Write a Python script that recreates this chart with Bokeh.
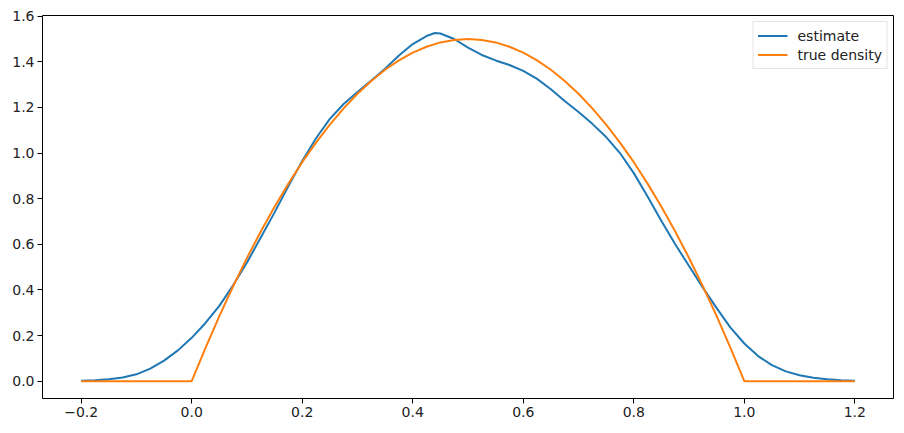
from bokeh.plotting import figure
from bokeh.models import FixedTicker, CustomJSTickFormatter, Range1d, Legend, LegendItem
from bokeh.embed import file_html
from bokeh.resources import INLINE

# Kernel density estimate
est_x = [-0.2, -0.175, -0.15, -0.125, -0.1, -0.075, -0.05, -0.025, 0.0, 0.025, 0.05, 0.075,
         0.1, 0.125, 0.15, 0.175, 0.2, 0.225, 0.25, 0.275, 0.3, 0.325, 0.35, 0.375, 0.4,
         0.425, 0.44, 0.45, 0.475, 0.5, 0.525, 0.55, 0.575, 0.6, 0.625, 0.65, 0.675, 0.7,
         0.725, 0.75, 0.775, 0.8, 0.825, 0.85, 0.875, 0.9, 0.925, 0.95, 0.975, 1.0, 1.025,
         1.05, 1.075, 1.1, 1.125, 1.15, 1.175, 1.2]
est_y = [0.002, 0.004, 0.008, 0.016, 0.030, 0.055, 0.090, 0.135, 0.190, 0.255, 0.330, 0.420,
         0.520, 0.630, 0.740, 0.855, 0.965, 1.065, 1.150, 1.215, 1.268, 1.318, 1.370, 1.428, 1.478,
         1.513, 1.526, 1.524, 1.500, 1.462, 1.430, 1.406, 1.386, 1.360, 1.325, 1.280, 1.228, 1.180,
         1.128, 1.070, 1.000, 0.912, 0.810, 0.702, 0.600, 0.505, 0.410, 0.320, 0.235, 0.165, 0.110,
         0.070, 0.043, 0.026, 0.015, 0.008, 0.004, 0.002]

# True density
true_x = [-0.2, 0.0, 0.025, 0.05, 0.075, 0.1, 0.125, 0.15, 0.175, 0.2, 0.225, 0.25, 0.275,
          0.3, 0.325, 0.35, 0.375, 0.4, 0.425, 0.45, 0.475, 0.5, 0.525, 0.55, 0.575, 0.6,
          0.625, 0.65, 0.675, 0.7, 0.725, 0.75, 0.775, 0.8, 0.825, 0.85, 0.875, 0.9, 0.925,
          0.95, 0.975, 1.0, 1.2]
true_y = [0.0, 0.0, 0.146, 0.285, 0.416, 0.540, 0.656, 0.765, 0.866, 0.960, 1.046, 1.125, 1.196,
          1.260, 1.316, 1.365, 1.406, 1.440, 1.466, 1.485, 1.496, 1.500, 1.496, 1.485, 1.466, 1.440,
          1.406, 1.365, 1.316, 1.260, 1.196, 1.125, 1.046, 0.960, 0.866, 0.765, 0.656, 0.540, 0.416,
          0.285, 0.146, 0.0, 0.0]

x_ticks = [-0.2, 0.0, 0.2, 0.4, 0.6, 0.8, 1.0, 1.2]
y_ticks = [0.0, 0.2, 0.4, 0.6, 0.8, 1.0, 1.2, 1.4, 1.6]

p = figure(width=904, height=433, output_backend="svg", toolbar_location=None,
           x_range=Range1d(-0.27, 1.27), y_range=Range1d(-0.076, 1.603),
           min_border_left=42, min_border_right=11, min_border_top=15, min_border_bottom=35)

p.grid.visible = False
p.outline_line_color = "black"
p.outline_line_width = 1
p.background_fill_color = "white"
p.border_fill_color = "white"

fmt = CustomJSTickFormatter(code="return tick.toFixed(1).replace('-', '\\u2212');")
for ax, ticks in ((p.xaxis[0], x_ticks), (p.yaxis[0], y_ticks)):
    ax.ticker = FixedTicker(ticks=ticks)
    ax.formatter = fmt
    ax.axis_line_color = None
    ax.major_tick_in = 0
    ax.major_tick_out = 5
    ax.major_tick_line_color = "black"
    ax.major_tick_line_width = 1
    ax.minor_tick_line_color = None
    ax.major_label_text_font = "DejaVu Sans"
    ax.major_label_text_font_size = "14px"
    ax.major_label_text_color = "#222222"
    ax.major_label_standoff = 3

r1 = p.line(est_x, est_y, line_color="#1f77b4", line_width=2)
r2 = p.line(true_x, true_y, line_color="#ff7f0e", line_width=2)

legend = Legend(items=[LegendItem(label="estimate", renderers=[r1]),
                       LegendItem(label="true density", renderers=[r2])],
                location="top_right")
legend.label_text_font = "DejaVu Sans"
legend.label_text_font_size = "14px"
legend.label_text_color = "#222222"
legend.border_line_color = "#cccccc"
legend.border_line_width = 1
legend.background_fill_alpha = 0.8
legend.glyph_width = 30
legend.glyph_height = 19
legend.label_height = 19
legend.label_standoff = 10
legend.spacing = 0
legend.padding = 4
legend.margin = 6
p.add_layout(legend)

open("out.html", "w").write(file_html(p, INLINE))
